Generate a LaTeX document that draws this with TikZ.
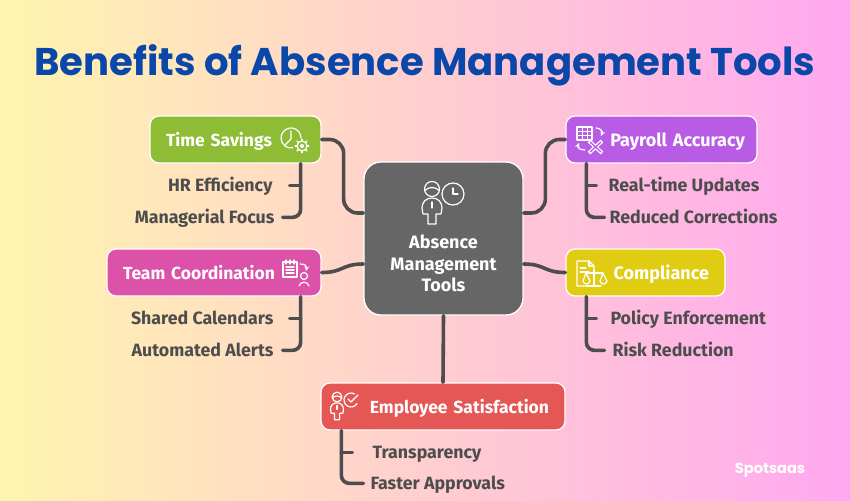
\documentclass[tikz,border=0pt]{standalone}
\usepackage{fontspec}
\usepackage{xcolor}
\setmainfont{Fira Sans}
\newfontfamily\poppinsfont{Poppins}
\usetikzlibrary{positioning}

\definecolor{titleblue}{HTML}{0A47A9}
\definecolor{linkgrey}{HTML}{4D4D4D}
\definecolor{rootgrey}{HTML}{666666}
\definecolor{savingsgreen}{HTML}{8FBC35}
\definecolor{teampink}{HTML}{DC52A8}
\definecolor{payrollpurple}{HTML}{B85BE5}
\definecolor{complianceyellow}{HTML}{E0CC12}
\definecolor{employeered}{HTML}{E55754}
\definecolor{backleft}{HTML}{FFF5AE}
\definecolor{backmiddle}{HTML}{FFCDD0}
\definecolor{backright}{HTML}{FFA8F0}

\tikzset{
    rootbox/.style={draw=white, line width=1.3pt, fill=rootgrey, rounded corners=17pt, minimum width=159pt, minimum height=153pt, inner sep=0pt, align=center, text=white, font=\fontsize{18}{21.5}\selectfont\bfseries},
    branch/.style={draw=white, line width=1.3pt, rounded corners=9pt, minimum height=47pt, inner xsep=16pt, inner ysep=0pt, text height=14pt, text depth=0pt, text=white, font=\fontsize{17.5}{20}\selectfont\bfseries},
    leaf/.style={inner sep=0pt, text height=13pt, text depth=0pt, text=linkgrey, font=\fontsize{17.8}{20}\selectfont\bfseries},
    link/.style={draw=linkgrey, line width=3.6pt, line cap=round},
    icon/.style={draw=white, line width=1.2pt, line cap=round, line join=round},
}

\newcommand{\personicon}[2]{
    \begin{scope}[shift={#1}, scale=#2]
        \draw [icon] (0,0) circle [radius=7.5];
        \draw [icon] (-7.3,1.5) .. controls (-3,-2.5) and (3,-2.5) .. (7.3,1.5);
        \draw [icon] (0,9) .. controls (-6,9) and (-10,13) .. (-10,19) -- (-9,25) -- (-4,25) -- (-4,35) -- (4,35) -- (4,25) -- (9,25) -- (10,19) .. controls (10,13) and (6,9) .. (0,9);
        \draw [icon] (0,13) -- (0,19);
    \end{scope}
}

\begin{document}
\begin{tikzpicture}[x=1pt, y=-1pt]
    \useasboundingbox (0,0) rectangle (850,500);
    \fill [left color=backleft, middle color=backmiddle, right color=backright] (0,0) rectangle (850,500);

    \node [text=titleblue, font=\fontsize{38.6}{42}\selectfont\poppinsfont\bfseries] (title) at (425,65) {Benefits of Absence Management Tools};

    % centre and branches
    \node [rootbox] (root) at (443.5,238.5) {\rule{0pt}{42pt}\\Absence\\Management\\Tools};
    \node [branch, fill=savingsgreen, text width=139pt, align=left] (savings) at (235.5,139.5) {Time Savings};
    \node [branch, fill=teampink, text width=182pt, align=left] (team) at (214,272.5) {Team Coordination};
    \node [branch, fill=payrollpurple, text width=167pt, inner xsep=12pt, align=right, font=\fontsize{18}{20}\selectfont\bfseries] (payroll) at (661.5,139.5) {Payroll Accuracy};
    \node [branch, fill=complianceyellow, text width=127pt, align=right, font=\fontsize{18}{20}\selectfont\bfseries] (compliance) at (645.5,272.5) {Compliance};
    \node [branch, fill=employeered, text width=212pt, align=right] (employee) at (443,406.5) {Employee Satisfaction};

    % leaves
    \node [leaf, below left=15pt and 49pt of savings.south east] (hr) {HR Efficiency};
    \node [leaf, below left=47pt and 47pt of savings.south east] (focus) {Managerial Focus};
    \node [leaf, below left=15pt and 48pt of team.south east] (calendars) {Shared Calendars};
    \node [leaf, below left=47pt and 48pt of team.south east] (alerts) {Automated Alerts};
    \node [leaf, below right=15pt and 43pt of payroll.south west] (updates) {Real-time Updates};
    \node [leaf, below right=47pt and 44pt of payroll.south west] (corrections) {Reduced Corrections};
    \node [leaf, below right=15pt and 45pt of compliance.south west] (policy) {Policy Enforcement};
    \node [leaf, below right=47pt and 47pt of compliance.south west] (risk) {Risk Reduction};
    \node [leaf, below right=15pt and 52pt of employee.south west] (transparency) {Transparency};
    \node [leaf, below right=46pt and 50pt of employee.south west] (approvals) {Faster Approvals};

    \node [text=white, font=\fontsize{14.6}{18}\selectfont\poppinsfont\bfseries] (logo) at (770,470) {Spotsaas};

    % root links
    \draw [link, rounded corners=14pt] (savings.east) -- ++(22pt,0pt) |- ([yshift=25.5pt]root.west);
    \draw [link] (team.east) .. controls +(22,0) and +(-22,0) .. ([yshift=-25.5pt]root.west);
    \draw [link, rounded corners=14pt] (payroll.west) -- ++(-20pt,0pt) |- ([yshift=25.5pt]root.east);
    \draw [link] (compliance.west) .. controls +(-22,0) and +(22,0) .. ([yshift=-25.5pt]root.east);
    \draw [link] (root.south) -- (employee.north);

    % leaf links
    \coordinate (savingstrunk) at ([xshift=-21pt]savings.south east);
    \coordinate (teamtrunk) at ([xshift=-21pt]team.south east);
    \coordinate (payrolltrunk) at ([xshift=21pt]payroll.south west);
    \coordinate (compliancetrunk) at ([xshift=21pt]compliance.south west);
    \coordinate (employeetrunk) at ([xshift=21pt]employee.south west);

    \draw [link] (savingstrunk |- hr.east) -- ([xshift=17pt]hr.east);
    \draw [link, rounded corners=8pt] (savingstrunk) |- ([xshift=8pt]focus.east);
    \draw [link] (teamtrunk |- calendars.east) -- ([xshift=16pt]calendars.east);
    \draw [link, rounded corners=8pt] (teamtrunk) |- ([xshift=9pt]alerts.east);
    \draw [link] (payrolltrunk |- updates.west) -- ([xshift=-12pt]updates.west);
    \draw [link, rounded corners=8pt] (payrolltrunk) |- ([xshift=-5pt]corrections.west);
    \draw [link] (compliancetrunk |- policy.west) -- ([xshift=-14pt]policy.west);
    \draw [link, rounded corners=8pt] (compliancetrunk) |- ([xshift=-8pt]risk.west);
    \draw [link] (employeetrunk |- transparency.west) -- ([xshift=-20pt]transparency.west);
    \draw [link, rounded corners=8pt] (employeetrunk) |- ([xshift=-7pt]approvals.west);

    % root icon
    \personicon{(432,189)}{1}
    \draw [icon] (453,194) circle [radius=11];
    \draw [icon] (453,188) -- (453,194) -- (458,194);

    % clock and gear
    \draw [icon] (291,138) ++(80:10) arc [start angle=80, end angle=360, radius=10];
    \draw [icon] (291,131) -- (291,139) -- (285,145);
    \draw [icon] (302,146) circle [radius=5];
    \draw [icon] (302,146) circle [radius=1.8];
    \foreach \a in {0,45,...,315} {
        \draw [icon, line width=1.5pt] (302,146) ++(\a:5.5) -- ++(\a:1.2);
    }

    % clipboard and person
    \draw [icon] (283,262) rectangle (297,277);
    \foreach \x in {286,290,294} {
        \draw [icon] (\x,260) -- (\x,264);
    }
    \foreach \y in {267,270,273} {
        \draw [icon] (286,\y) -- (294,\y);
    }
    \draw [icon, ->, >=stealth] (300,264) .. controls (305,264) and (307,266) .. (306,271);
    \draw [icon] (304,276) circle [radius=3.5];
    \draw [icon] (299,286) .. controls (300,281) and (308,281) .. (309,286);

    % table, arrows and cross
    \draw [icon] (577,127) rectangle (592,140);
    \foreach \y in {131,135} {
        \draw [icon, line width=.7pt] (577,\y) -- (592,\y);
    }
    \foreach \x in {582,587} {
        \draw [icon, line width=.7pt] (\x,127) -- (\x,140);
    }
    \draw [icon, ->, >=stealth] (596,128) .. controls (600,128) and (603,131) .. (601,136);
    \draw [icon, ->, >=stealth] (585,150) .. controls (581,150) and (577,148) .. (579,143);
    \draw [icon, line width=3.8pt, line cap=butt] (589,141) -- (602,153) (602,141) -- (589,153);
    \draw [payrollpurple, line width=1.3pt] (590,142) -- (601,152) (601,142) -- (590,152);

    % document and scale
    \draw [icon] (589,286) -- (577,286) -- (577,261) -- (589,261) -- (594,266) -- (594,270);
    \draw [icon] (589,261) -- (589,266) -- (594,266);
    \draw [icon] (580,268) -- (586,268) (580,272) -- (589,272);
    \draw [icon] (594,270) -- (594,286) (587,286) -- (601,286) (586,273) -- (603,273);
    \draw [icon] (586,273) -- (583,281) .. controls (584,285) and (589,285) .. (590,281) -- cycle;
    \draw [icon] (603,273) -- (600,281) .. controls (601,285) and (606,285) .. (607,281) -- cycle;

    % person and check
    \personicon{(337,397)}{.65}
    \draw [icon] (351,400) ++(-60:7) arc [start angle=-60, end angle=-330, radius=7];
    \draw [icon] (348,399) -- (351,402) -- (358,395);
\end{tikzpicture}
\end{document}
